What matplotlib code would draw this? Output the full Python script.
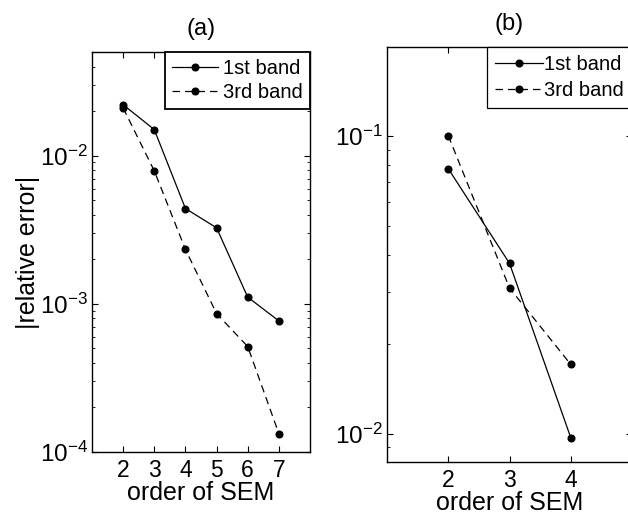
import matplotlib
matplotlib.use("Agg")
import matplotlib.pyplot as plt
from matplotlib.ticker import LogLocator, FixedLocator

plt.rcParams['font.family'] = ['Liberation Sans', 'DejaVu Sans']
plt.rcParams['mathtext.default'] = 'regular'
plt.rcParams['axes.linewidth'] = 1.0

# Panel (a)
orders_a = [2, 3, 4, 5, 6, 7]
band1_a = [0.0221, 0.0150, 0.0044, 0.00326, 0.00111, 0.000767]
band3_a = [0.0210, 0.0079, 0.00233, 0.00086, 0.000515, 0.000133]

# Panel (b)
orders_b = [2, 3, 4]
band1_b = [0.0778, 0.0374, 0.0097]
band3_b = [0.1005, 0.0309, 0.0171]

labels = ['1st band', '3rd band']

fig = plt.figure(figsize=(6.28, 5.15), dpi=100)
ax1 = fig.add_axes([92/628, (515-452)/515, 218/628, 400/515])
ax2 = fig.add_axes([387/628, (515-462)/515, 245/628, 415/515])

def style(ax, xticks):
    ax.set_yscale('log')
    ax.xaxis.set_major_locator(FixedLocator(xticks))
    ax.yaxis.set_major_locator(LogLocator(base=10, numticks=10))
    ax.yaxis.set_minor_locator(LogLocator(base=10, subs=range(2, 10), numticks=10))
    ax.tick_params(which='both', direction='in', top=True, right=True)
    ax.tick_params(axis='y', labelsize=17.5, pad=3)
    ax.tick_params(axis='x', labelsize=16.5, pad=5)
    ax.tick_params(which='major', length=4, width=0.8)
    ax.tick_params(which='minor', length=2.5, width=0.6)
    ax.set_xlabel('order of SEM', fontsize=18, labelpad=-1)

dash = (0, (6, 4))

ax1.plot(orders_a, band1_a, color='k', ls='-', marker='o', ms=4.8, lw=0.9, label=labels[0])
ax1.plot(orders_a, band3_a, color='k', ls=dash, marker='o', ms=4.8, lw=0.9, label=labels[1])
ax1.set_xlim(1, 8)
ax1.set_ylim(1e-4, 10**-1.3)
style(ax1, orders_a)
ax1.set_title('(a)', fontsize=17, pad=12)
ax1.set_ylabel('|relative error|', fontsize=18, labelpad=0)
leg1 = ax1.legend(loc='upper right', fontsize=14.5, borderaxespad=0, fancybox=False,
                  edgecolor='black', framealpha=1, handlelength=2.3, handletextpad=0.25,
                  borderpad=0.35, labelspacing=0.25)
leg1.get_frame().set_linewidth(1.3)

ax2.plot(orders_b, band1_b, color='k', ls='-', marker='o', ms=4.8, lw=0.9, label=labels[0])
ax2.plot(orders_b, band3_b, color='k', ls=dash, marker='o', ms=4.8, lw=0.9, label=labels[1])
ax2.set_xlim(1, 5)
ax2.set_ylim(10**-2.095, 10**-0.70)
style(ax2, orders_b)
ax2.set_title('(b)', fontsize=17, pad=12)
leg2 = ax2.legend(loc='upper right', fontsize=14.5, borderaxespad=0, fancybox=False,
                  edgecolor='black', framealpha=1, handlelength=2.4, handletextpad=0.05,
                  borderpad=0.4, labelspacing=0.35)
leg2.get_frame().set_linewidth(0.9)

fig.savefig('out.png', dpi=100)
